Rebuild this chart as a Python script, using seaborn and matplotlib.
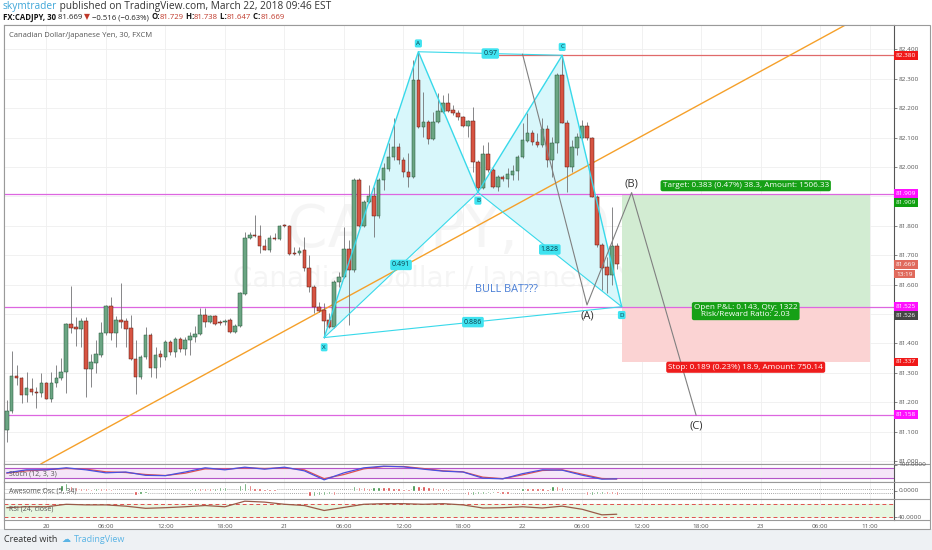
import matplotlib
matplotlib.use("Agg")
import matplotlib.pyplot as plt
import numpy as np
import pandas as pd
import seaborn as sns
from matplotlib.offsetbox import AnnotationBbox, HPacker, TextArea
from matplotlib.patches import Polygon, Rectangle

# CADJPY 30 min bars, Mar 19 20:00 .. Mar 22 09:30
opens = [
    81.106, 81.171, 81.289, 81.284, 81.226, 81.246, 81.236, 81.233, 81.267, 81.212,
    81.264, 81.281, 81.303, 81.465, 81.455, 81.449, 81.476, 81.312, 81.335, 81.361,
    81.435, 81.527, 81.437, 81.480, 81.476, 81.453, 81.348, 81.287, 81.353, 81.429,
    81.318, 81.363, 81.353, 81.406, 81.372, 81.414, 81.381, 81.412, 81.423, 81.431,
    81.496, 81.474, 81.493, 81.473, 81.472, 81.480, 81.440, 81.461, 81.568, 81.758,
    81.770, 81.766, 81.732, 81.718, 81.760, 81.754, 81.802, 81.800, 81.709, 81.707,
    81.718, 81.658, 81.593, 81.525, 81.514, 81.480, 81.457, 81.610, 81.627, 81.720,
    81.650, 81.956, 81.800, 81.880, 81.901, 81.833, 81.956, 81.993, 82.033, 82.067,
    82.024, 81.984, 81.965, 82.296, 82.135, 82.154, 82.095, 82.152, 82.188, 82.219,
    82.194, 82.183, 82.169, 82.139, 82.158, 82.018, 81.927, 82.044, 81.990, 81.933,
    81.967, 81.958, 81.973, 81.988, 82.033, 82.090, 82.115, 82.086, 82.074, 82.128,
    82.024, 82.083, 82.313, 82.151, 81.999, 82.064, 82.098, 82.139, 82.098, 81.899,
    81.735, 81.661, 81.633, 81.732,
]
highs = [
    81.208, 81.376, 81.327, 81.287, 81.304, 81.281, 81.253, 81.298, 81.270, 81.304,
    81.327, 81.349, 81.468, 81.595, 81.491, 81.485, 81.491, 81.364, 81.412, 81.474,
    81.531, 81.557, 81.493, 81.605, 81.485, 81.496, 81.412, 81.361, 81.457, 81.434,
    81.389, 81.378, 81.412, 81.412, 81.423, 81.423, 81.423, 81.440, 81.459, 81.520,
    81.520, 81.497, 81.497, 81.480, 81.482, 81.485, 81.466, 81.576, 81.780, 81.780,
    81.837, 81.803, 81.754, 81.769, 81.775, 81.803, 81.806, 81.803, 81.729, 81.729,
    81.763, 81.701, 81.599, 81.542, 81.537, 81.502, 81.616, 81.644, 81.797, 81.752,
    81.962, 81.962, 81.888, 81.939, 81.933, 81.962, 82.012, 82.081, 82.166, 82.081,
    82.035, 82.047, 82.364, 82.392, 82.256, 82.160, 82.188, 82.251, 82.245, 82.251,
    82.211, 82.194, 82.173, 82.160, 82.205, 82.024, 82.075, 82.086, 81.996, 81.973,
    81.973, 81.996, 82.007, 82.041, 82.149, 82.183, 82.126, 82.115, 82.166, 82.143,
    82.103, 82.319, 82.380, 82.160, 82.092, 82.115, 82.160, 82.154, 82.103, 81.905,
    81.740, 81.695, 81.865, 81.740,
]
lows = [
    81.066, 81.162, 81.259, 81.196, 81.202, 81.225, 81.179, 81.219, 81.210, 81.202,
    81.253, 81.276, 81.233, 81.434, 81.393, 81.389, 81.219, 81.251, 81.301, 81.355,
    81.429, 81.412, 81.389, 81.451, 81.387, 81.344, 81.227, 81.278, 81.346, 81.285,
    81.281, 81.321, 81.344, 81.361, 81.355, 81.372, 81.361, 81.359, 81.406, 81.429,
    81.457, 81.471, 81.463, 81.463, 81.463, 81.437, 81.437, 81.457, 81.565, 81.754,
    81.763, 81.709, 81.718, 81.712, 81.752, 81.752, 81.795, 81.701, 81.701, 81.701,
    81.648, 81.576, 81.503, 81.508, 81.420, 81.451, 81.451, 81.593, 81.621, 81.463,
    81.644, 81.797, 81.797, 81.876, 81.763, 81.825, 81.922, 81.988, 82.024, 82.010,
    81.967, 81.931, 81.962, 82.132, 82.103, 82.078, 82.092, 82.149, 82.185, 82.188,
    82.177, 82.160, 82.135, 82.103, 81.984, 81.914, 81.924, 81.984, 81.927, 81.920,
    81.954, 81.933, 81.956, 81.956, 82.030, 82.086, 82.075, 82.069, 82.069, 82.001,
    81.967, 82.047, 82.149, 81.916, 81.984, 82.041, 82.092, 82.092, 81.897, 81.729,
    81.582, 81.570, 81.599, 81.652,
]
closes = [
    81.171, 81.289, 81.284, 81.226, 81.247, 81.234, 81.233, 81.267, 81.212, 81.267,
    81.281, 81.303, 81.465, 81.454, 81.450, 81.476, 81.312, 81.337, 81.363, 81.435,
    81.527, 81.437, 81.480, 81.474, 81.450, 81.348, 81.287, 81.353, 81.429, 81.318,
    81.361, 81.353, 81.406, 81.372, 81.414, 81.381, 81.412, 81.425, 81.431, 81.496,
    81.474, 81.493, 81.466, 81.469, 81.478, 81.440, 81.461, 81.571, 81.758, 81.768,
    81.766, 81.732, 81.718, 81.760, 81.754, 81.801, 81.798, 81.704, 81.704, 81.716,
    81.656, 81.593, 81.525, 81.512, 81.478, 81.457, 81.610, 81.627, 81.720, 81.650,
    81.956, 81.800, 81.882, 81.901, 81.833, 81.956, 81.995, 82.035, 82.067, 82.024,
    81.984, 81.967, 82.296, 82.135, 82.154, 82.095, 82.154, 82.191, 82.219, 82.192,
    82.183, 82.169, 82.139, 82.158, 82.018, 81.927, 82.044, 81.990, 81.933, 81.967,
    81.958, 81.975, 81.988, 82.035, 82.092, 82.115, 82.086, 82.074, 82.128, 82.024,
    82.083, 82.313, 82.151, 81.999, 82.067, 82.101, 82.139, 82.098, 81.899, 81.735,
    81.655, 81.633, 81.732, 81.669,
]

tick_idx = [8, 20, 32, 44, 56, 68, 80, 92, 104, 116, 128, 140, 152, 164, 174]
tick_labels = ["20", "06:00", "12:00", "18:00", "21", "06:00", "12:00", "18:00",
               "22", "06:00", "12:00", "18:00", "23", "06:00", "11:00"]
price_ticks = [81.0, 81.1, 81.2, 81.3, 81.4, 81.5, 81.6, 81.7, 81.8, 81.9, 82.0, 82.1, 82.2, 82.3, 82.4]

# bat pattern X A B C D
pat_names = ["X", "A", "B", "C", "D"]
pat_idx = [64, 83, 95, 112, 124]
pat_price = [81.420, 82.392, 81.914, 82.380, 81.525]
ratio_pairs = [(0, 2, "0.491"), (1, 3, "0.97"), (2, 4, "1.828"), (0, 4, "0.886")]

# projected (A)(B)(C) wave
wave_idx = [104, 117, 126, 139]
wave_price = [82.384, 81.531, 81.913, 81.156]

trend_idx = [12.4, 127.7]
trend_price = [81.041, 82.102]

levels = [81.909, 81.525, 81.158]
red_level = 82.380
red_level_start = 96

entry, target, stop = 81.525, 81.909, 81.337
pos_start, pos_end = 124, 174

# indicators, sampled every 4 bars
ind_idx = list(range(0, 124, 4)) + [123]
stoch_k = [50, 68, 68, 80, 68, 50, 55, 35, 33, 55, 80, 68, 84, 72, 84, 62,
           8, 50, 80, 90, 86, 72, 60, 55, 18, 14, 45, 68, 66, 36, 12, 14]
stoch_d = [48, 62, 68, 76, 72, 56, 52, 40, 34, 48, 74, 72, 80, 76, 80, 68,
           15, 40, 74, 88, 88, 76, 62, 56, 24, 15, 38, 64, 68, 42, 16, 13]
rsi = [54.5, 56, 56, 60, 59, 59, 57, 53.5, 54.5, 56, 58, 56, 65, 63.5, 60, 58,
       50, 55, 60, 61, 61, 60, 61, 59, 54, 54.5, 56, 54, 57, 52, 43, 44]
ao = [
    0.05, 0.04, 0.03, 0.03, 0.02, 0.02, 0.03, 0.04, 0.05, 0.06, 0.10,
    0.55, 0.75, 0.45, 0.35, 0.30, 0.25, 0.20,
    0.30, 0.28, 0.25, 0.20, 0.10, 0.05, 0.0, -0.10,
    -0.45, -0.35, -0.30, -0.20, -0.15, -0.10, -0.05, -0.02, 0.0,
    0.05, 0.10, 0.15, 0.30, 0.28, 0.25, 0.22,
    0.30, 0.32, 0.35, 0.10, 0.05,
    0.60, 0.80, 0.55, 0.30, 0.25, 0.20, 0.18, 0.15, 0.10, 0.05,
    0.0, -0.05, -0.10, -0.20,
    -0.60, -0.55, -0.50, -0.45, -0.40, -0.45,
    -0.20, 0.0, 0.10,
    0.45, 0.40, 0.35, 0.30,
    0.35, 0.40, 0.38, 0.35, 0.30, 0.25, 0.20, 0.15,
    0.60, 0.50, 0.45, 0.40, 0.35, 0.30, 0.25, 0.20,
    0.10, 0.05, 0.0,
    -0.50, -0.45, -0.40, -0.35, -0.30, -0.25,
    -0.30, -0.35, -0.40,
    -0.20, 0.0,
    0.30, 0.28, 0.26, 0.24, 0.22, 0.20,
    0.50, 0.45, 0.35,
    0.10, 0.05, 0.02, 0.0,
    -0.50, -0.45, -0.40, -0.35,
    -0.40, -0.42, -0.45,
]

W, H = 932, 550
GRID = "#efefef"
AXIS_TXT = "#555555"


def fig_rect(left, top, right, bottom):
    return [left / W, 1 - bottom / H, (right - left) / W, (bottom - top) / H]


def text_row(ax, x, y, pieces, size):
    boxes = [TextArea(s, textprops=dict(color=c, fontsize=size, fontweight=w)) for s, c, w in pieces]
    row = HPacker(children=boxes, align="baseline", pad=0, sep=0)
    ax.add_artist(AnnotationBbox(row, (x, y), xycoords="data", box_alignment=(0, 0.5),
                                 frameon=False, pad=0))


def price_tag(ax, y, text, bg, dy=0):
    ax.annotate(text, xy=(1.0, y), xycoords=("axes fraction", "data"), xytext=(1.5, dy),
                textcoords="offset points", ha="left", va="center", fontsize=4.6, color="white",
                bbox=dict(boxstyle="square,pad=0.3", fc=bg, ec="none"), annotation_clip=False, zorder=10)


def style_pane(ax):
    ax.set_facecolor("white")
    for sp in ax.spines.values():
        sp.set_color("#9a9a9a")
        sp.set_linewidth(0.8)
    ax.spines["right"].set_color("#555555")
    ax.yaxis.tick_right()
    ax.tick_params(axis="y", length=2, width=0.5, color=AXIS_TXT, labelsize=4.6,
                   labelcolor=AXIS_TXT, pad=1)
    ax.set_xticks(tick_idx)
    ax.grid(True, axis="x", color=GRID, lw=0.6)
    ax.set_axisbelow(True)


sns.set_theme(style="white")
plt.rcParams["font.family"] = ["Open Sans", "DejaVu Sans"]

fig = plt.figure(figsize=(W / 100, H / 100), dpi=100, facecolor="white")
bg = fig.add_axes([0, 0, 1, 1], zorder=-5)
bg.set_axis_off()
bg.set_xlim(0, W)
bg.set_ylim(H, 0)
bg.add_patch(Rectangle((0, 529), W, 21, fc="#eef1f4", ec="none"))
bg.add_patch(Rectangle((4, 25), 926, 504, fc="white", ec="#9a9a9a", lw=0.8))
for y in [464, 482, 499, 520]:
    bg.plot([894, 930], [y, y], color="#9a9a9a", lw=0.8)

# header
text_row(bg, 3, 7, [("skymtrader", "#3ea6d8", "normal"),
                    (" published on TradingView.com, March 22, 2018 09:46 EST", "#333333", "normal")], 7.3)
red = "#c0392b"
text_row(bg, 3, 17, [
    ("FX:CADJPY, 30", "#111111", "bold"), (" 81.669 ", "#222222", "normal"), ("\u25bc", red, "normal"),
    (" \u22120.516 (\u22120.63%) ", "#222222", "normal"), ("O:", "#111111", "bold"), ("81.729", red, "normal"),
    (" H:", "#111111", "bold"), ("81.738", red, "normal"), (" L:", "#111111", "bold"), ("81.647", red, "normal"),
    (" C:", "#111111", "bold"), ("81.669", red, "normal")], 5.6)

# footer
text_row(bg, 4, 540, [("Created with  ", "#333333", "normal"), ("\u2601 ", "#5ab4e5", "normal"),
                      ("TradingView", "#5ab4e5", "normal")], 6.5)

ax = fig.add_axes(fig_rect(4, 25, 894, 464))
st_ax = fig.add_axes(fig_rect(4, 464, 894, 482), sharex=ax)
ao_ax = fig.add_axes(fig_rect(4, 482, 894, 499), sharex=ax)
rsi_ax = fig.add_axes(fig_rect(4, 499, 894, 520), sharex=ax)
for a in [ax, st_ax, ao_ax, rsi_ax]:
    style_pane(a)
    a.tick_params(axis="x", length=0, labelbottom=False)

ax.set_xlim(-0.55, 178.9)
ax.set_ylim(80.990, 82.483)
ax.set_yticks(price_ticks)
ax.set_yticklabels([f"{p:.3f}" for p in price_ticks])
ax.grid(True, axis="y", color=GRID, lw=0.6)

ax.text(0.5, 0.494, "CADJPY, 30", transform=ax.transAxes, ha="center", va="baseline",
        fontsize=42, color=(0.55, 0.55, 0.55, 0.08), family="DejaVu Sans", zorder=0.5)
ax.text(0.5, 0.403, "Canadian Dollar / Japanese Yen", transform=ax.transAxes, ha="center",
        va="baseline", fontsize=20, color=(0.55, 0.55, 0.55, 0.08), family="DejaVu Sans", zorder=0.5)
ax.text(0.006, 0.975, "Canadian Dollar/Japanese Yen, 30, FXCM", transform=ax.transAxes,
        ha="left", va="center", fontsize=5.5, color="#555555")

# position box
ax.add_patch(Rectangle((pos_start, entry), pos_end - pos_start, target - entry,
                       fc="#d2ecd2", ec="none", zorder=1))
ax.add_patch(Rectangle((pos_start, stop), pos_end - pos_start, entry - stop,
                       fc="#fbd3d3", ec="none", zorder=1))

# pattern fill
pts = list(zip(pat_idx, pat_price))
ax.add_patch(Polygon(pts[0:3], closed=True, fc="#d8f7fb", ec="none", zorder=1.2))
ax.add_patch(Polygon(pts[2:5], closed=True, fc="#d8f7fb", ec="none", zorder=1.2))

# levels
for lv in levels:
    ax.axhline(lv, color="#dd66e0", lw=0.9, zorder=2)
ax.plot([red_level_start, ax.get_xlim()[1]], [red_level, red_level], color="#e06a6a", lw=0.9, zorder=2)
ax.axline((trend_idx[0], trend_price[0]), (trend_idx[1], trend_price[1]), color="#f5a02a", lw=1.0, zorder=2.2)

# candles
o, h, l, c = map(np.array, (opens, highs, lows, closes))
idx = np.arange(len(c))
up = c >= o
body = np.maximum(np.abs(c - o), 0.003)
ax.vlines(idx, l, h, color="#737375", lw=0.6, zorder=3)
ax.bar(idx[up], body[up], bottom=np.minimum(o, c)[up], width=0.72, color="#6ba583",
       edgecolor="#225437", linewidth=0.35, zorder=4)
ax.bar(idx[~up], body[~up], bottom=np.minimum(o, c)[~up], width=0.72, color="#d75442",
       edgecolor="#5b1a13", linewidth=0.35, zorder=4)

# pattern lines and tags
cyan = "#38d9ea"
ax.plot(pat_idx, pat_price, color=cyan, lw=1.0, zorder=5)
for i, j, txt in ratio_pairs:
    ax.plot([pat_idx[i], pat_idx[j]], [pat_price[i], pat_price[j]], color=cyan, lw=0.8, zorder=5)
    ax.annotate(txt, xy=((pat_idx[i] + pat_idx[j]) / 2, (pat_price[i] + pat_price[j]) / 2),
                ha="center", va="center", fontsize=5, color="#0b3d4a", zorder=7,
                bbox=dict(boxstyle="round,pad=0.25", fc="#3fe3f0", ec="none"))
for name, xi, yi, dy in zip(pat_names, pat_idx, pat_price, [-7, 6, -6, 6, -6]):
    ax.annotate(name, xy=(xi, yi), xytext=(0, dy), textcoords="offset points", ha="center",
                va="center", fontsize=4.5, color="#0b3d4a", zorder=7,
                bbox=dict(boxstyle="round,pad=0.25", fc="#3fe3f0", ec="none"))
ax.text(100.8, 81.585, "BULL BAT???", ha="center", va="center", fontsize=7.8, color="#4a7fd6", zorder=6)

# projected wave
ax.plot(wave_idx, wave_price, color="#808080", lw=0.8, zorder=5)
for name, xi, yi, dy in zip(["(A)", "(B)", "(C)"], wave_idx[1:], wave_price[1:], [-8, 6, -8]):
    ax.annotate(name, xy=(xi, yi), xytext=(0, dy), textcoords="offset points", ha="center",
                va="center", fontsize=8, color="#333333", zorder=6)

mid = (pos_start + pos_end) / 2
ax.annotate("Target: 0.383 (0.47%) 38.3, Amount: 1506.33", xy=(mid, target), xytext=(0, 5.8),
            textcoords="offset points", ha="center", va="center", fontsize=5.9, color="white", zorder=8,
            bbox=dict(boxstyle="round,pad=0.25", fc="#16a016", ec="none"))
ax.annotate("Open P&L: 0.143, Qty: 1322\nRisk/Reward Ratio: 2.03", xy=(mid, entry), xytext=(0, -3.2),
            textcoords="offset points", ha="center", va="center", fontsize=5.9, color="white", zorder=8,
            linespacing=1.0, bbox=dict(boxstyle="round,pad=0.25", fc="#16a016", ec="none"))
ax.annotate("Stop: 0.189 (0.23%) 18.9, Amount: 750.14", xy=(mid, stop), xytext=(0, -3.8),
            textcoords="offset points", ha="center", va="center", fontsize=5.9, color="white", zorder=8,
            bbox=dict(boxstyle="round,pad=0.25", fc="#ee1c1c", ec="none"))

# right axis tags
price_tag(ax, 82.380, "82.380", "#f01818")
price_tag(ax, 81.909, "81.909", "#ff10ff")
price_tag(ax, 81.909, "81.909", "#10a010", dy=-6.4)
price_tag(ax, 81.669, "81.669", "#e06a5c")
price_tag(ax, 81.669, "13:19", "#e06a5c", dy=-7)
price_tag(ax, 81.525, "81.525", "#ff10ff")
price_tag(ax, 81.525, "81.526", "#454545", dy=-6.2)
price_tag(ax, 81.337, "81.337", "#f01818")
price_tag(ax, 81.158, "81.158", "#ff10ff")

# stochastic pane
ind = pd.DataFrame({"idx": ind_idx, "k": stoch_k, "d": stoch_d, "rsi": rsi})
st_ax.set_ylim(-5, 103)
st_ax.axhspan(20, 80, color="#f5e6f8", zorder=0)
st_ax.axhline(80, color="#b455c8", lw=0.8)
st_ax.axhline(20, color="#b455c8", lw=0.8)
sns.lineplot(data=ind, x="idx", y="d", ax=st_ax, color="#e05050", lw=0.9)
sns.lineplot(data=ind, x="idx", y="k", ax=st_ax, color="#4a50e0", lw=0.9)
st_ax.set_yticks([100])
st_ax.set_yticklabels(["100.0000"])
st_ax.text(0.006, 0.45, "Stoch (12, 3, 3)", transform=st_ax.transAxes, fontsize=5,
           color=AXIS_TXT, va="center")

# awesome oscillator pane
ao_arr = np.array(ao)
ao_col = ["#2e8a3a" if i == 0 or ao_arr[i] >= ao_arr[i - 1] else "#d83a3a" for i in range(len(ao_arr))]
ao_ax.set_ylim(-0.9, 0.9)
ao_ax.axhline(0.2, color="#888888", lw=0.6, ls=(0, (1, 1.5)))
ao_ax.axhline(-0.3, color="#888888", lw=0.6, ls=(0, (1, 1.5)))
ao_ax.bar(np.arange(len(ao_arr)), ao_arr, width=0.5, color=ao_col, zorder=3)
ao_ax.set_yticks([0])
ao_ax.set_yticklabels(["0.0000"])
ao_ax.text(0.006, 0.5, "Awesome Osc (5, 34)", transform=ao_ax.transAxes, fontsize=5,
           color=AXIS_TXT, va="center")

# rsi pane
rsi_ax.set_ylim(34.7, 68.5)
rsi_ax.axhspan(40, 60, color="#e8f7e1", zorder=0)
rsi_ax.axhline(60, color="#e05050", lw=0.7, ls=(0, (4, 3)))
rsi_ax.axhline(40, color="#e05050", lw=0.7, ls=(0, (4, 3)))
sns.lineplot(data=ind, x="idx", y="rsi", ax=rsi_ax, color="#9a5a48", lw=0.9)
rsi_ax.set_yticks([40])
rsi_ax.set_yticklabels(["40.0000"])
rsi_ax.text(0.006, 0.5, "RSI (24, close)", transform=rsi_ax.transAxes, fontsize=5,
            color=AXIS_TXT, va="center")

for a in [ax, st_ax, ao_ax, rsi_ax]:
    a.set_xlabel("")
    a.set_ylabel("")

rsi_ax.tick_params(axis="x", labelbottom=True, length=1.5, width=0.5, color=AXIS_TXT,
                   labelsize=4.6, labelcolor=AXIS_TXT, pad=1.2)
rsi_ax.set_xticklabels(tick_labels)
ax.set_xlim(-0.55, 178.9)

fig.savefig("out.png", dpi=100, facecolor=fig.get_facecolor())
